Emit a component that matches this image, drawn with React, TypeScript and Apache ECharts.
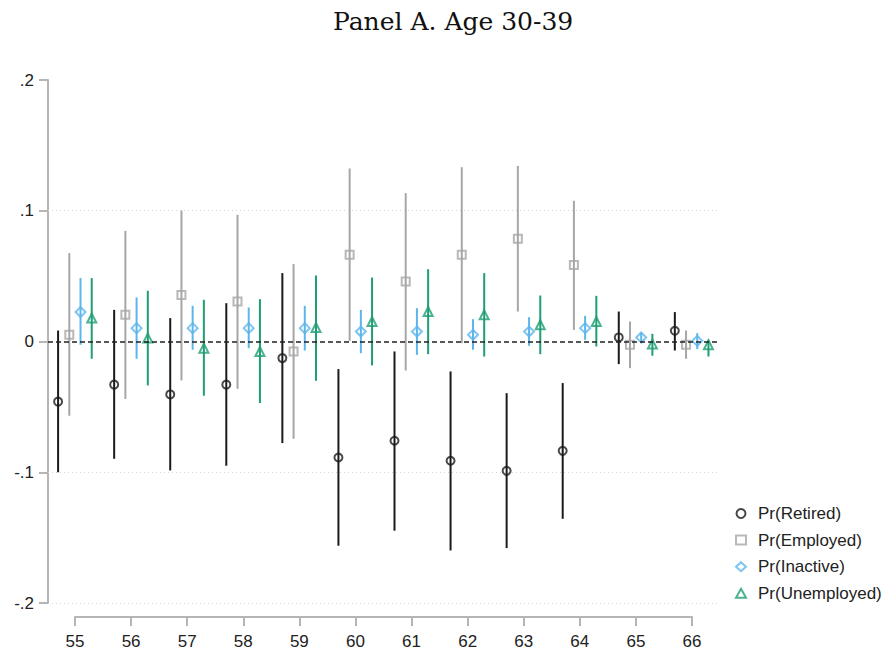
import React, { useEffect, useRef } from "react";
import * as echarts from "echarts";

// Ages on the horizontal axis
const ages = [55, 56, 57, 58, 59, 60, 61, 62, 63, 64, 65, 66];

// Point estimates and 95% confidence bounds for each outcome
const retiredEst = [-0.046, -0.033, -0.0405, -0.033, -0.0127, -0.0887, -0.0759, -0.0912, -0.0989, -0.0836, 0.0031, 0.0082];
const retiredLo = [-0.1, -0.0897, -0.0986, -0.095, -0.0777, -0.1562, -0.1447, -0.1598, -0.158, -0.1356, -0.0173, -0.0069];
const retiredHi = [0.0084, 0.0242, 0.0179, 0.0293, 0.0523, -0.0211, -0.0076, -0.0229, -0.0395, -0.0318, 0.0229, 0.0225];

const employedEst = [0.0051, 0.0204, 0.0355, 0.0306, -0.0076, 0.0663, 0.0459, 0.0663, 0.0785, 0.0586, -0.0025, -0.0025];
const employedLo = [-0.0568, -0.044, -0.0298, -0.0362, -0.0744, 0.0005, -0.0222, -0.0013, 0.0229, 0.0089, -0.0204, -0.0132];
const employedHi = [0.0676, 0.0846, 0.1002, 0.0969, 0.0592, 0.1323, 0.1135, 0.1333, 0.1343, 0.1076, 0.0153, 0.0084];

const inactiveEst = [0.0225, 0.0102, 0.0102, 0.0102, 0.0102, 0.0076, 0.0076, 0.0051, 0.0076, 0.0102, 0.0031, 0.0005];
const inactiveLo = [-0.0025, -0.0132, -0.0063, -0.0051, -0.0069, -0.0089, -0.0102, -0.0063, -0.0033, 0.0013, -0.0013, -0.0058];
const inactiveHi = [0.0485, 0.0337, 0.0273, 0.026, 0.0273, 0.0242, 0.0255, 0.0171, 0.0186, 0.0196, 0.0069, 0.0064];

const unemployedEst = [0.018, 0.0026, -0.0051, -0.0076, 0.0107, 0.0153, 0.0229, 0.0204, 0.0128, 0.0153, -0.002, -0.0025];
const unemployedLo = [-0.0132, -0.0336, -0.0415, -0.0471, -0.03, -0.0183, -0.0097, -0.0115, -0.0097, -0.0038, -0.0109, -0.0115];
const unemployedHi = [0.0485, 0.0388, 0.0319, 0.0324, 0.0505, 0.0489, 0.0553, 0.0523, 0.0352, 0.0349, 0.0059, 0.0013];

// Y tick values
const yTicks = [-0.2, -0.1, 0, 0.1, 0.2];
const gridLineValues = [0.1, -0.1, -0.2];

const groups = [
  { name: "Pr(Retired)", est: retiredEst, lo: retiredLo, hi: retiredHi, offset: -0.3, color: "#1a1a1a", symbol: "circle", size: 8 },
  { name: "Pr(Employed)", est: employedEst, lo: employedLo, hi: employedHi, offset: -0.1, color: "#a6a6a6", symbol: "rect", size: 8 },
  { name: "Pr(Inactive)", est: inactiveEst, lo: inactiveLo, hi: inactiveHi, offset: 0.1, color: "#5cb5ec", symbol: "diamond", size: 10 },
  { name: "Pr(Unemployed)", est: unemployedEst, lo: unemployedLo, hi: unemployedHi, offset: 0.3, color: "#1f9e75", symbol: "triangle", size: 9 },
];

const fmtTick = (v: number) => {
  if (Math.abs(v) < 1e-9) return "0";
  return v.toFixed(1).replace("0.", ".");
};

export default function App() {
  const ref = useRef<HTMLDivElement>(null);

  useEffect(() => {
    document.body.style.margin = "0";
    const chart = echarts.init(ref.current!, undefined, { renderer: "svg" });

    const series: any[] = [];

    // reference lines: dotted grid and dashed zero line
    series.push({
      type: "scatter",
      name: "refLines",
      data: [],
      z: 1,
      silent: true,
      markLine: {
        silent: true,
        symbol: ["none", "none"],
        label: { show: false },
        animation: false,
        data: [
          ...gridLineValues.map((v) => ({
            yAxis: v,
            lineStyle: { color: "#d4d4d4", width: 1, type: [1, 3] },
          })),
          { yAxis: 0, lineStyle: { color: "#222", width: 1.5, type: [5, 3] } },
        ],
      },
    });

    groups.forEach((g) => {
      const ciData = ages.map((a, i) => [a + g.offset, g.lo[i], g.hi[i]]);
      series.push({
        type: "custom",
        name: g.name + " CI",
        z: 2,
        silent: true,
        encode: { x: 0, y: [1, 2] },
        data: ciData,
        renderItem: (params: any, api: any) => {
          const x = api.value(0);
          const p1 = api.coord([x, api.value(1)]);
          const p2 = api.coord([x, api.value(2)]);
          return {
            type: "line",
            shape: { x1: p1[0], y1: p1[1], x2: p2[0], y2: p2[1] },
            style: { stroke: g.color, lineWidth: 2 },
          };
        },
      });
      series.push({
        type: "scatter",
        name: g.name,
        z: 3,
        symbol: g.symbol,
        symbolSize: g.size,
        data: ages.map((a, i) => [a + g.offset, g.est[i]]),
        itemStyle: { color: "rgba(255,255,255,0)", borderColor: g.color, borderWidth: 2 },
      });
    });

    chart.setOption({
      animation: false,
      title: {
        text: "Panel A. Age 30-39",
        left: 333,
        top: 9,
        padding: 0,
        textStyle: { fontFamily: "DejaVu Serif", fontSize: 25, fontWeight: "normal", color: "#111" },
      },
      legend: {
        orient: "vertical",
        left: 735,
        top: 505,
        padding: 0,
        itemWidth: 10,
        itemHeight: 9,
        itemGap: 9.6,
        data: groups.map((g) => g.name),
        textStyle: { fontFamily: "Liberation Sans", fontSize: 17, color: "#222", padding: [0, 0, 0, 7] },
      },
      grid: [
        { left: 48, right: 175, top: 80, bottom: 51 },
        { left: 75, right: 201, top: 600, height: 17 },
      ],
      xAxis: [
        { type: "value", gridIndex: 0, min: 54.52, max: 66.47, show: false },
        {
          type: "value",
          gridIndex: 1,
          min: ages[0],
          max: ages[ages.length - 1],
          interval: 1,
          axisLine: { show: true, lineStyle: { color: "#b5b5b5", width: 2 } },
          axisTick: { show: true, length: 9, lineStyle: { color: "#b5b5b5", width: 2 } },
          axisLabel: { fontFamily: "Liberation Sans", fontSize: 17, color: "#222", margin: 16 },
          splitLine: { show: false },
        },
      ],
      yAxis: [
        {
          type: "value",
          gridIndex: 0,
          min: yTicks[0],
          max: yTicks[yTicks.length - 1],
          interval: 0.1,
          axisLine: { show: true, lineStyle: { color: "#b5b5b5", width: 2 } },
          axisTick: { show: true, length: 9, lineStyle: { color: "#b5b5b5", width: 2 } },
          axisLabel: { fontFamily: "Liberation Sans", fontSize: 17, color: "#222", margin: 14, formatter: fmtTick },
          splitLine: { show: false },
        },
        { type: "value", gridIndex: 1, show: false, min: 0, max: 1 },
      ],
      series,
    });

    return () => chart.dispose();
  }, []);

  return <div ref={ref} style={{ width: 893, height: 654 }} />;
}
